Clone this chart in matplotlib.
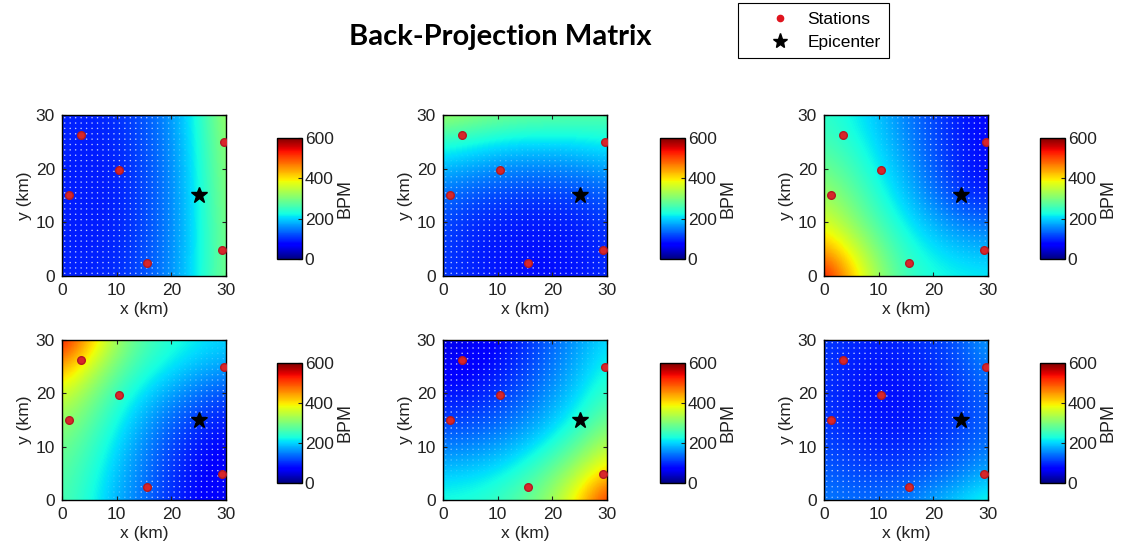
import numpy as np
import matplotlib.pyplot as plt
from matplotlib.lines import Line2D

plt.rcParams['font.family'] = ['Liberation Sans', 'DejaVu Sans']

# station and epicenter locations (km)
station_x = [1.2, 3.5, 10.5, 15.5, 29.7, 29.2]
station_y = [15.0, 26.2, 19.7, 2.5, 25.0, 4.8]
epi_x = [25.0]
epi_y = [15.0]

# BPM sampled every 5 km; rows go from y=30 (top) down to y=0, columns x=0..30
grid_km = [0, 5, 10, 15, 20, 25, 30]

bpm_1 = [[95, 95, 102, 125, 165, 235, 330],
         [95, 92, 98, 120, 160, 230, 320],
         [95, 90, 95, 117, 157, 225, 315],
         [95, 90, 95, 115, 155, 222, 310],
         [95, 90, 95, 115, 155, 220, 305],
         [95, 92, 98, 117, 157, 220, 300],
         [95, 95, 102, 122, 162, 222, 300]]

bpm_2 = [[330, 315, 300, 290, 285, 280, 275],
         [240, 228, 215, 208, 208, 212, 222],
         [185, 172, 160, 155, 155, 160, 172],
         [140, 125, 115, 110, 110, 115, 130],
         [118, 102, 94, 90, 90, 94, 108],
         [110, 95, 88, 85, 85, 88, 100],
         [110, 95, 88, 82, 82, 88, 100]]

bpm_3 = [[245, 220, 190, 150, 115, 90, 75],
         [260, 235, 200, 160, 120, 90, 78],
         [290, 258, 215, 175, 130, 95, 80],
         [325, 285, 235, 190, 145, 105, 90],
         [370, 315, 260, 215, 180, 150, 140],
         [445, 370, 295, 240, 210, 190, 180],
         [550, 425, 320, 255, 230, 220, 215]]

bpm_4 = [[550, 430, 325, 265, 235, 215, 200],
         [445, 360, 290, 240, 210, 185, 170],
         [365, 310, 250, 205, 170, 140, 120],
         [320, 278, 225, 175, 135, 105, 90],
         [292, 255, 205, 155, 115, 85, 75],
         [275, 240, 190, 145, 105, 78, 65],
         [265, 230, 180, 140, 100, 75, 60]]

bpm_5 = [[55, 60, 75, 100, 135, 170, 205],
         [65, 70, 85, 110, 145, 185, 225],
         [85, 90, 105, 130, 165, 205, 250],
         [110, 115, 130, 155, 190, 235, 290],
         [150, 155, 170, 195, 235, 285, 345],
         [195, 200, 215, 245, 290, 345, 420],
         [230, 235, 250, 280, 325, 410, 530]]

bpm_6 = [[110, 100, 95, 100, 110, 130, 170],
         [105, 92, 86, 90, 100, 118, 150],
         [105, 90, 82, 85, 95, 112, 135],
         [108, 94, 86, 88, 97, 112, 132],
         [118, 104, 97, 100, 108, 122, 145],
         [132, 120, 115, 118, 128, 148, 182],
         [150, 140, 140, 150, 175, 205, 230]]

panels = [bpm_1, bpm_2, bpm_3, bpm_4, bpm_5, bpm_6]
cbar_ticks = [0, 200, 400, 600]
axis_ticks = [0, 10, 20, 30]

# search grid nodes (1 km spacing)
node = np.arange(0.5, 30, 1.0)
node_x, node_y = np.meshgrid(node, node)
node_x = node_x.ravel()
node_y = node_y.ravel()


def bpm_at(field, px, py):
    rows = np.array(field, dtype=float)[::-1]
    out = []
    for x, y in zip(px, py):
        col = [np.interp(x, grid_km, r) for r in rows]
        out.append(np.interp(y, grid_km, col))
    return np.array(out)


W, H = 1122, 551
fig = plt.figure(figsize=(W / 100, H / 100), dpi=100)

col_left = [62, 443, 824]
cbar_left = [277, 660, 1040]
row_top = [115, 340]
row_h = [161, 160]
cbar_top = [138, 363]
cbar_h = [121, 120]

for k, field in enumerate(panels):
    r, c = divmod(k, 3)
    ax = fig.add_axes([col_left[c] / W, 1 - (row_top[r] + row_h[r]) / H,
                       164 / W, row_h[r] / H])
    im = ax.imshow(np.array(field), extent=(-2.5, 32.5, -2.5, 32.5),
                   origin='upper', cmap='jet', vmin=0, vmax=600,
                   interpolation='bicubic', aspect='auto')

    # grid nodes fade out where the background gets bright
    vals = bpm_at(field, node_x, node_y)
    alpha = np.clip((210 - vals) / 90, 0, 1) * 0.75
    ax.scatter(node_x, node_y, s=1.2, c='white', alpha=alpha,
               edgecolors='none', zorder=2)

    ax.plot(station_x, station_y, 'o', color='#d8262a', markeredgecolor='#b31a22',
            markersize=5.5, zorder=3)
    ax.plot(epi_x, epi_y, '*', color='black', markersize=12, zorder=4)

    ax.set_xlim(0, 30)
    ax.set_ylim(0, 30)
    ax.set_xticks(axis_ticks)
    ax.set_yticks(axis_ticks)
    ax.tick_params(direction='in', length=3, top=True, right=True,
                   labelsize=12.5, colors='#222222', pad=5)
    ax.set_xlabel('x (km)', fontsize=12.5, color='#222222', labelpad=3)
    ax.set_ylabel('y (km)', fontsize=12.5, color='#222222', labelpad=3)
    for s in ax.spines.values():
        s.set_linewidth(1.0)

    cax = fig.add_axes([cbar_left[c] / W, 1 - (cbar_top[r] + cbar_h[r]) / H,
                        25 / W, cbar_h[r] / H])
    cb = fig.colorbar(im, cax=cax, ticks=cbar_ticks)
    cb.outline.set_linewidth(1.0)
    cax.tick_params(direction='in', length=3, labelsize=12.5, colors='#222222', pad=2)
    cb.set_label('BPM', fontsize=13, color='#222222', labelpad=2)

fig.text(500 / W, 1 - 37 / H, 'Back-Projection Matrix', ha='center', va='center',
         fontsize=21, fontweight='bold', family='Lato')

handles = [Line2D([], [], ls='none', marker='o', color='#e0141e', markersize=4.5),
           Line2D([], [], ls='none', marker='*', color='black', markersize=11)]
leg = fig.legend(handles, ['Stations', 'Epicenter'], loc='upper left',
                 bbox_to_anchor=(738 / W, 1 - 3 / H), borderaxespad=0,
                 fancybox=False, edgecolor='black', framealpha=1, fontsize=12.5,
                 handlelength=3.8, handletextpad=-0.3, borderpad=0.5,
                 labelspacing=0.45, numpoints=1)
leg.get_frame().set_linewidth(0.8)

fig.savefig('out.png', dpi=100)
